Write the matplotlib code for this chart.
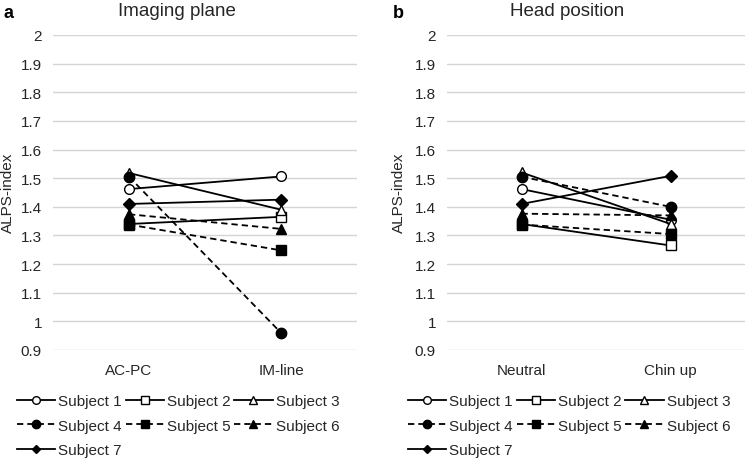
import matplotlib
matplotlib.use("Agg")
import matplotlib.pyplot as plt
from matplotlib.lines import Line2D

plt.rcParams['font.family'] = ['Liberation Sans', 'DejaVu Sans']

# ---- data ----
cats_a = ["AC-PC", "IM-line"]
cats_b = ["Neutral", "Chin up"]
subjects = ["Subject 1", "Subject 2", "Subject 3", "Subject 4",
            "Subject 5", "Subject 6", "Subject 7"]
plane_acpc = [1.462, 1.340, 1.518, 1.505, 1.338, 1.374, 1.410]
plane_imline = [1.506, 1.365, 1.390, 0.960, 1.248, 1.323, 1.425]
head_neutral = [1.462, 1.340, 1.520, 1.505, 1.338, 1.376, 1.410]
head_chinup = [1.355, 1.265, 1.340, 1.400, 1.305, 1.370, 1.508]
yticks = [0.9, 1.0, 1.1, 1.2, 1.3, 1.4, 1.5, 1.6, 1.7, 1.8, 1.9, 2.0]

# ---- styles ----
markers = ['o', 's', '^', 'o', 's', '^', 'D']
filled = [False, False, False, True, True, True, True]
dashed = [False, False, False, True, True, True, False]
msizes = [7, 6.5, 7, 7.5, 6.5, 7, 6.5]
leg_ms = [5.5, 5.5, 5.5, 6, 6, 6, 4.5]
TXT = '#262626'

W, H = 749, 460
fig = plt.figure(figsize=(W / 100, H / 100), dpi=100)

def fx(px):
    return px / W

def fy(py):
    return 1 - py / H

def style(i):
    return dict(color='black', lw=1.3,
                linestyle=(0, (3.5, 2.2)) if dashed[i] else '-',
                marker=markers[i],
                mfc='black' if filled[i] else 'white', mec='black', mew=1.0)

ax_top, ax_bot = 36, 351
axa = fig.add_axes([fx(53), fy(ax_bot), fx(357 - 53), (ax_bot - ax_top) / H])
axb = fig.add_axes([fx(447), fy(ax_bot), fx(745 - 447), (ax_bot - ax_top) / H])

for ax, cats, v0, v1 in [(axa, cats_a, plane_acpc, plane_imline),
                         (axb, cats_b, head_neutral, head_chinup)]:
    for i, name in enumerate(subjects):
        ax.plot([0, 1], [v0[i], v1[i]], ms=msizes[i], label=name,
                zorder=3 + i, **style(i))
    ax.set_xlim(-0.5, 1.5)
    ax.set_ylim(0.9, 2.0)
    ax.set_yticks(yticks)
    ax.set_yticklabels(['{:g}'.format(t) for t in yticks])
    ax.set_xticks([0, 1])
    ax.set_xticklabels(cats)
    ax.yaxis.grid(True, color='#d4d4d4', lw=1.0)
    ax.set_axisbelow(True)
    for s in ax.spines.values():
        s.set_visible(False)
    ax.tick_params(axis='both', length=0, labelsize=11, colors=TXT)
    ax.tick_params(axis='y', pad=8)
    ax.tick_params(axis='x', pad=9.5)

# titles, panel letters, y labels
fig.text(fx(177), fy(16), "Imaging plane", ha='center', va='baseline', fontsize=13.5, color=TXT)
fig.text(fx(567), fy(16), "Head position", ha='center', va='baseline', fontsize=13.5, color=TXT)
fig.text(fx(3), fy(18), "a", ha='left', va='baseline', fontsize=13, fontweight='bold')
fig.text(fx(393), fy(18), "b", ha='left', va='baseline', fontsize=13, fontweight='bold')
fig.text(fx(8), fy(193), "ALPS-index", rotation=90, ha='center', va='center', fontsize=11, color=TXT)
fig.text(fx(399), fy(193), "ALPS-index", rotation=90, ha='center', va='center', fontsize=11, color=TXT)

# legend: row-major order (matplotlib fills columns first)
proxies = [Line2D([], [], ms=leg_ms[i], label=subjects[i], **style(i)) for i in range(7)]
order = [0, 3, 6, 1, 4, 2, 5]
leg_handles = [proxies[k] for k in order]
for x0 in [17, 408]:
    fig.legend(handles=leg_handles, loc='upper left', bbox_to_anchor=(fx(x0), fy(395)),
               ncol=3, frameon=False, fontsize=11, handlelength=2.5,
               handletextpad=0.2, columnspacing=0.25, labelspacing=0.7,
               borderpad=0, borderaxespad=0, labelcolor=TXT)

fig.savefig("out.png", dpi=100)
